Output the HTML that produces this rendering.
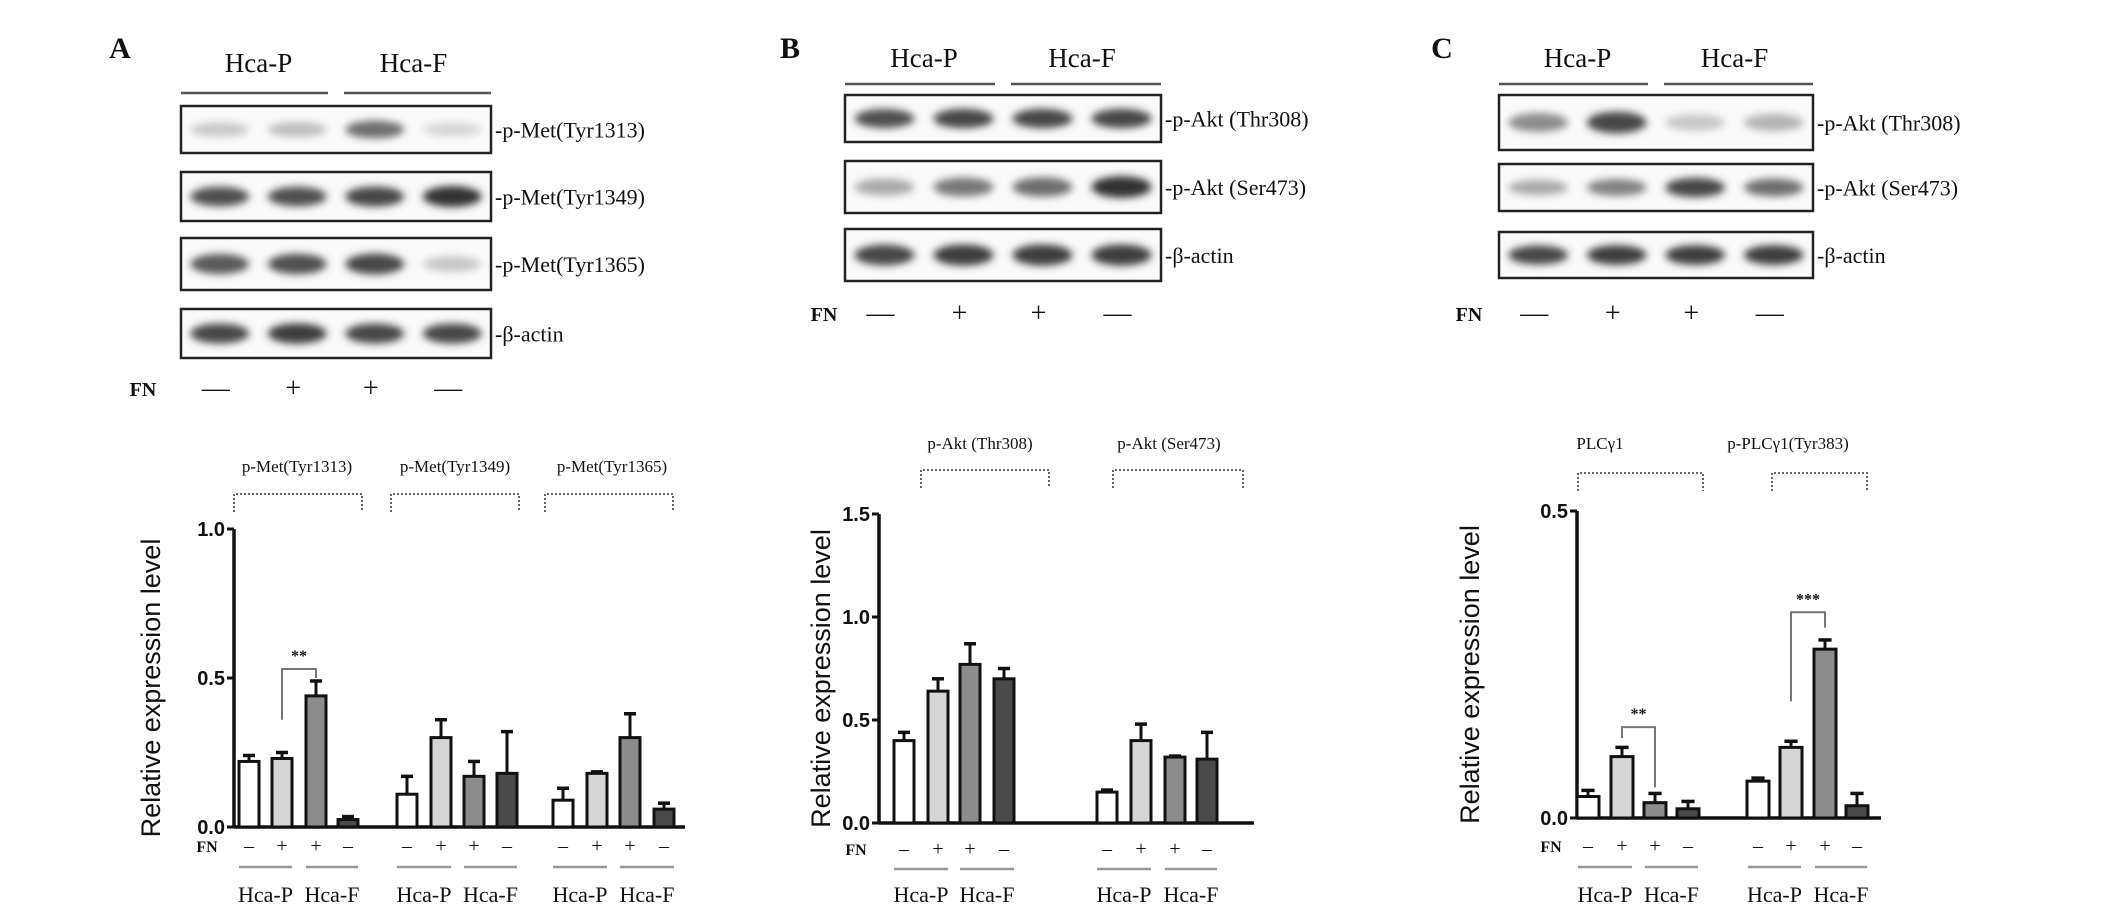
<!DOCTYPE html>
<html><head><meta charset="utf-8">
<style>
html,body{margin:0;padding:0;background:#fff;}
svg{display:block;}
text{font-family:"Liberation Serif",serif;fill:#111;}
.sans{font-family:"Liberation Sans",sans-serif;}
</style></head>
<body>
<svg id="fig" width="2126" height="911" viewBox="0 0 2126 911" xmlns="http://www.w3.org/2000/svg">
<defs><filter id="blur" x="-20%" y="-50%" width="140%" height="200%"><feGaussianBlur stdDeviation="4"/></filter></defs>
</svg>
<script>
// ---- Chart data ----
const aGroups = ["p-Met(Tyr1313)","p-Met(Tyr1349)","p-Met(Tyr1365)"];
const aValues = [[0.22,0.23,0.44,0.025],[0.11,0.30,0.17,0.18],[0.09,0.18,0.30,0.06]];
const aErrors = [[0.02,0.02,0.05,0.01],[0.06,0.06,0.05,0.14],[0.04,0.005,0.08,0.02]];
const aTicks = [0.0,0.5,1.0];
const bGroups = ["p-Akt (Thr308)","p-Akt (Ser473)"];
const bValues = [[0.40,0.64,0.77,0.70],[0.15,0.40,0.32,0.31]];
const bErrors = [[0.04,0.06,0.10,0.05],[0.01,0.08,0.005,0.13]];
const bTicks = [0.0,0.5,1.0,1.5];
const cGroups = ["PLCγ1","p-PLCγ1(Tyr383)"];
const cValues = [[0.035,0.10,0.025,0.015],[0.06,0.115,0.275,0.02]];
const cErrors = [[0.01,0.015,0.015,0.012],[0.005,0.01,0.015,0.02]];
const cTicks = [0.0,0.5];
const fnSigns = ["—","+","+","—"];
const fills = ["#ffffff","#d6d6d6","#8c8c8c","#4a4a4a"];

const NS="http://www.w3.org/2000/svg";
const svg=document.getElementById('fig');
function el(tag,attrs,parent){const e=document.createElementNS(NS,tag);for(const k in attrs)e.setAttribute(k,attrs[k]);(parent||svg).appendChild(e);return e;}
function txt(x,y,s,size,attrs,parent){const t=el('text',Object.assign({x:x,y:y,'font-size':size,'text-anchor':'middle'},attrs||{}),parent);t.textContent=s;return t;}

// ---- Blot panels ----
function blotPanel(cfg){
  const g=el('g',{});
  
  
  const l=txt(cfg.letterX,cfg.letterY,cfg.letter,30,{'font-weight':'bold'},g);
  
  
  const x0=cfg.x0,x1=cfg.x1,mid=(x0+x1)/2;
  txt((x0+mid)/2,cfg.hdrY,"Hca-P",27,{},g);
  txt((mid+x1)/2,cfg.hdrY,"Hca-F",27,{},g);
  el('line',{x1:x0,y1:cfg.lineY,x2:mid-8,y2:cfg.lineY,stroke:'#555','stroke-width':2.5},g);
  el('line',{x1:mid+8,y1:cfg.lineY,x2:x1,y2:cfg.lineY,stroke:'#555','stroke-width':2.5},g);
  const lane=(x1-x0)/4;
  cfg.boxes.forEach((b,i)=>{
    const bg=el('g',{},g);
    
    
    el('rect',{x:x0,y:b.y0,width:x1-x0,height:b.y1-b.y0,fill:'#fafafa',stroke:'#222','stroke-width':2.5},bg);
    const cy=(b.y0+b.y1)/2;
    b.bands.forEach((d,j)=>{
      if(d<=0)return;
      const c=Math.round(230-200*d);
      el('ellipse',{cx:x0+lane*(j+0.5),cy:cy,rx:lane*0.38,ry:(b.y1-b.y0)*0.14+d*4,fill:'rgb('+c+','+c+','+c+')',filter:'url(#blur)'},bg);
    });
    txt(x1+4,cy+8,"-"+b.label,22,{'text-anchor':'start'},bg);
  });
  txt(cfg.fnX,cfg.fnY+8,"FN",20,{'font-weight':'bold'},g);
  fnSigns.forEach((s,j)=>txt(x0+lane*(j+0.5)-4,cfg.fnY+9,s==="—"?"—":"+",28,{},g));
}
blotPanel({name:'blot-panel-a',letter:'A',letterX:120,letterY:58,x0:181,x1:491,hdrY:72,lineY:93,fnX:143,fnY:388,
 boxes:[{label:'p-Met(Tyr1313)',y0:106,y1:153,bands:[0.15,0.2,0.6,0.08]},
        {label:'p-Met(Tyr1349)',y0:172,y1:221,bands:[0.75,0.75,0.8,0.9]},
        {label:'p-Met(Tyr1365)',y0:238,y1:290,bands:[0.7,0.75,0.8,0.15]},
        {label:'β-actin',y0:309,y1:358,bands:[0.8,0.85,0.8,0.8]}]});
blotPanel({name:'blot-panel-b',letter:'B',letterX:790,letterY:58,x0:845,x1:1161,hdrY:67,lineY:84,fnX:824,fnY:313,
 boxes:[{label:'p-Akt (Thr308)',y0:95,y1:142,bands:[0.75,0.8,0.8,0.8]},
        {label:'p-Akt (Ser473)',y0:161,y1:213,bands:[0.3,0.55,0.6,0.9]},
        {label:'β-actin',y0:229,y1:281,bands:[0.8,0.85,0.85,0.85]}]});
blotPanel({name:'blot-panel-c',letter:'C',letterX:1442,letterY:58,x0:1499,x1:1813,hdrY:67,lineY:84,fnX:1469,fnY:313,
 boxes:[{label:'p-Akt (Thr308)',y0:95,y1:150,bands:[0.45,0.8,0.15,0.25]},
        {label:'p-Akt (Ser473)',y0:164,y1:211,bands:[0.3,0.5,0.8,0.6]},
        {label:'β-actin',y0:232,y1:278,bands:[0.8,0.85,0.85,0.85]}]});

// ---- Bar charts ----
function barChart(cfg){
  const g=el('g',{});
  
  
  const yScale=v=>cfg.y0-(v-cfg.vmin)/(cfg.vmax-cfg.vmin)*(cfg.y0-cfg.yTop);
  const ax=el('line',{x1:cfg.axX,y1:cfg.yTop,x2:cfg.axX,y2:cfg.y0,stroke:'#111','stroke-width':3.5},g);
  
  
  const xa=el('line',{x1:cfg.axX,y1:cfg.y0,x2:cfg.axEnd,y2:cfg.y0,stroke:'#111','stroke-width':3.5},g);
  
  
  cfg.ticks.forEach(t=>{
    const y=yScale(t);
    el('line',{x1:cfg.axX-7,y1:y,x2:cfg.axX,y2:y,stroke:'#111','stroke-width':3},g);
    const tl=txt(cfg.axX-9,y+7,t.toFixed(1),20,{'text-anchor':'end','font-weight':'bold',class:'sans'},g);
    
    
  });
  const yt=txt(0,0,"Relative expression level",27,{transform:'translate('+cfg.titleX+','+((cfg.yTop+cfg.y0)/2+10)+') rotate(-90)',class:'sans'},g);
  
  
  txt(cfg.fnX,cfg.fnRowY+7,"FN",16,{'font-weight':'bold'},g);
  cfg.groups.forEach((name,gi)=>{
    const centers=cfg.centers[gi];
    const vals=cfg.values[gi],errs=cfg.errors[gi];
    const lab=txt(cfg.labelX[gi],cfg.labelY,name,17,{},g);
    
    
    const bx=cfg.bracket[gi];
    el('path',{d:'M'+bx[0]+' '+cfg.brB+' V'+cfg.brT+' H'+bx[1]+' V'+cfg.brB,fill:'none',stroke:'#666','stroke-width':2,'stroke-dasharray':'2 2'},g);
    vals.forEach((v,i)=>{
      const cx=centers[i],w=cfg.barW,top=yScale(v),et=yScale(v+errs[i]);
      el('line',{x1:cx,y1:top,x2:cx,y2:et,stroke:'#111','stroke-width':3},g);
      el('line',{x1:cx-w*0.3,y1:et,x2:cx+w*0.3,y2:et,stroke:'#111','stroke-width':3.5},g);
      const r=el('rect',{x:cx-w/2,y:top,width:w,height:Math.max(cfg.y0-top,1),fill:fills[i],stroke:'#111','stroke-width':3},g);
      
      
      txt(cx,cfg.fnRowY+7,fnSigns[i]==="—"?"–":"+",20,{},g);
    });
    el('line',{x1:centers[0]-10,y1:cfg.lineY,x2:centers[1]+10,y2:cfg.lineY,stroke:'#999','stroke-width':2.5},g);
    el('line',{x1:centers[2]-10,y1:cfg.lineY,x2:centers[3]+10,y2:cfg.lineY,stroke:'#999','stroke-width':2.5},g);
    txt((centers[0]+centers[1])/2,cfg.hcaY,"Hca-P",22,{},g);
    txt((centers[2]+centers[3])/2,cfg.hcaY,"Hca-F",22,{},g);
  });
  (cfg.sig||[]).forEach(s=>{
    const c=cfg.centers[s.g],a=c[1],b=c[2];
    const top=yScale(s.top),ya=yScale(s.fromA),yb=yScale(s.fromB);
    el('path',{d:'M'+a+' '+ya+' V'+top+' H'+b+' V'+yb,fill:'none',stroke:'#777','stroke-width':2},g);
    const st=txt((a+b)/2,top-8,s.label,16,{'font-weight':'bold'},g);
    
    
  });
}
barChart({name:'bar-chart-a',groups:aGroups,values:aValues,errors:aErrors,ticks:aTicks,vmin:0,vmax:1,
 axX:234,axEnd:685,yTop:529,y0:827,titleX:160,barW:20,
 centers:[[249,282,316,348],[407,441,474,507],[563,597,630,664]],
 labelX:[297,455,612],labelY:472,bracket:[[234,362],[391,519],[545,673]],brT:494,brB:512,
 fnX:207,fnRowY:845,lineY:867,hcaY:902,
 sig:[{g:0,top:0.53,fromA:0.36,fromB:0.5,label:'**'}]});
barChart({name:'bar-chart-b',groups:bGroups,values:bValues,errors:bErrors,ticks:bTicks,vmin:0,vmax:1.5,
 axX:879,axEnd:1254,yTop:514,y0:823,titleX:830,barW:20,
 centers:[[904,938,970,1004],[1107,1141,1175,1207]],
 labelX:[980,1169],labelY:449,bracket:[[921,1049],[1113,1243]],brT:470,brB:488,
 fnX:856,fnRowY:848,lineY:869,hcaY:902});
barChart({name:'bar-chart-c',groups:cGroups,values:cValues,errors:cErrors,ticks:cTicks,vmin:0,vmax:0.5,
 axX:1577,axEnd:1881,yTop:511,y0:818,titleX:1479,barW:22,
 centers:[[1588,1622,1655,1688],[1758,1791,1825,1857]],
 labelX:[1600,1788],labelY:449,bracket:[[1578,1703],[1772,1867]],brT:473,brB:491,
 fnX:1551,fnRowY:845,lineY:867,hcaY:902,
 sig:[{g:0,top:0.148,fromA:0.13,fromB:0.05,label:'**'},{g:1,top:0.335,fromA:0.19,fromB:0.31,label:'***'}]});
</script>
</body></html>
